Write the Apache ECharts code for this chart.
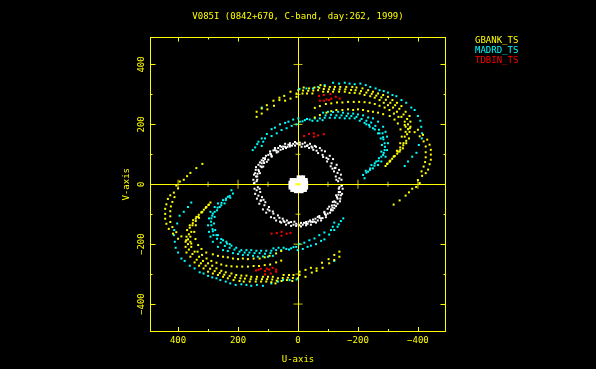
<!DOCTYPE html>
<html><head><meta charset="utf-8">
<style>html,body{margin:0;padding:0;background:#000}#c{width:596px;height:369px}</style>
<script src="https://cdn.jsdelivr.net/npm/echarts@6/dist/echarts.min.js"></script>
</head><body><div id="c"></div>
<script>
const titleText = "V085I (0842+670, C-band, day:262, 1999)";
const xLabel = "U-axis", yLabel = "V-axis";
const majorTicks = [-400,-200,0,200,400];
const minorTicks = [-300,-100,100,300];
const crossMajor = [-400,-200,200,400];
const crossMinor = [-300,-100,100,300];

// Values are [u, v].
const gbankTop = [[-15,303],[-17,313],[-19,323],[-30,303],[-34,312],[-37,320],[-48,303],[-51,313],[-55,323],[-67,314],[-71,322],[-75,331],[-84,309],[-86,318],[-89,327],[-100,309],[-103,317],[-106,325],[-117,309],[-120,317],[-123,325],[-137,309],[-139,317],[-141,325],[-156,309],[-158,317],[-161,325],[-172,305],[-177,315],[-181,325],[-189,305],[-192,314],[-195,323],[-206,303],[-210,311],[-215,320],[-222,298],[-228,306],[-234,314],[-241,294],[-246,302],[-250,309],[-256,289],[-261,296],[-267,303],[-272,281],[-278,290],[-284,298],[-286,272],[-293,282],[-300,292],[-300,264],[-308,272],[-315,281],[-317,256],[-324,264],[-330,272],[-330,242],[-338,252],[-345,261],[-345,225],[-352,233],[-359,242],[-356,209],[-364,218],[-372,228],[-359,192],[-367,200],[-375,209],[-359,175],[-367,184],[-375,192],[-356,159],[-364,167],[-372,175],[-352,137],[-361,145],[-370,153],[-341,123],[-351,130],[-361,137],[-333,109],[-341,115],[-350,120],[-322,94],[-331,102],[-339,109],[-306,76],[-314,85],[-322,94],[-292,61],[-299,69],[-306,76],
[138,242],[138,225],[121,253],[121,236],[104,264],[102,250],[82,279],[80,262],[62,289],[62,281],[46,295],[43,279],[25,309],[25,286],[5,303],[5,292],[-1,314],
[-56,255],[-73,261],[-93,268],[-111,270],[-130,273],[-148,273],[-167,275],[-186,275],[-204,275],[-222,274],[-239,272],[-256,268],[-272,262],[-289,256],[-305,248],[-320,236],[-335,225],[-356,198],[-373,187],[-389,174],[-406,160],[-419,143],[-426,126],[-426,107],[-426,90],[-424,74],[-419,59],[-412,43],
[-56,223],[-73,231],[-95,239],[-111,244],[-128,248],[-148,248],[-167,250],[-184,248],[-200,250],[-217,248],[-234,244],[-250,242],[-267,239],[-284,234],[-306,228],[-322,216],[-333,203],[-342,183],[-346,159],[-341,137],[-330,112],[-319,92],[-308,79],[-297,68],
[-400,182],[-417,165],[-431,149],[-439,132],[-443,115],[-443,99],[-443,82],[-439,67],[-434,49],[-426,37],[-414,28],[-400,14],[-406,4],[-394,-9],[-381,-15],[-370,-27],[-359,-38],[-339,-54],[-319,-68],
[5,0],[0,0],[-5,0]];
const gbankBottom = [[15,-303],[17,-313],[19,-323],[30,-303],[34,-312],[37,-320],[48,-303],[51,-313],[55,-323],[67,-314],[71,-322],[75,-331],[84,-309],[86,-318],[89,-327],[100,-309],[103,-317],[106,-325],[117,-309],[120,-317],[123,-325],[137,-309],[139,-317],[141,-325],[156,-309],[158,-317],[161,-325],[172,-305],[177,-315],[181,-325],[189,-305],[192,-314],[195,-323],[206,-303],[210,-311],[215,-320],[222,-298],[228,-306],[234,-314],[241,-294],[246,-302],[250,-309],[256,-289],[261,-296],[267,-303],[272,-281],[278,-290],[284,-298],[286,-272],[293,-282],[300,-292],[300,-264],[308,-272],[315,-281],[317,-256],[324,-264],[330,-272],[330,-242],[338,-252],[345,-261],[345,-225],[352,-233],[359,-242],[356,-209],[364,-218],[372,-228],[359,-192],[367,-200],[375,-209],[359,-175],[367,-184],[375,-192],[356,-159],[364,-167],[372,-175],[352,-137],[361,-145],[370,-153],[341,-123],[351,-130],[361,-137],[333,-109],[341,-115],[350,-120],[322,-94],[331,-102],[339,-109],[306,-76],[314,-85],[322,-94],[292,-61],[299,-69],[306,-76],
[-138,-242],[-138,-225],[-121,-253],[-121,-236],[-104,-264],[-102,-250],[-82,-279],[-80,-262],[-62,-289],[-62,-281],[-46,-295],[-43,-279],[-25,-309],[-25,-286],[-5,-303],[-5,-292],[1,-314],
[56,-255],[73,-261],[93,-268],[111,-270],[130,-273],[148,-273],[167,-275],[186,-275],[204,-275],[222,-274],[239,-272],[256,-268],[272,-262],[289,-256],[305,-248],[320,-236],[335,-225],[356,-198],[373,-187],[389,-174],[406,-160],[419,-143],[426,-126],[426,-107],[426,-90],[424,-74],[419,-59],[412,-43],
[56,-223],[73,-231],[95,-239],[111,-244],[128,-248],[148,-248],[167,-250],[184,-248],[200,-250],[217,-248],[234,-244],[250,-242],[267,-239],[284,-234],[306,-228],[322,-216],[333,-203],[342,-183],[346,-159],[341,-137],[330,-112],[319,-92],[308,-79],[297,-68],
[400,-182],[417,-165],[431,-149],[439,-132],[443,-115],[443,-99],[443,-82],[439,-67],[434,-49],[426,-37],[414,-28],[400,-14],[406,-4],[394,9],[381,15],[370,27],[359,38],[339,54],[319,68]];

const madrdTop = [[-5,318],[-28,320],[-50,320],[-67,325],[-89,331],[-117,339],[-137,336],[-156,339],[-172,336],[-189,334],[-208,336],[-226,331],[-241,325],[-259,320],[-272,314],[-286,311],[-300,306],[-315,298],[-328,294],[-345,281],[-361,272],[-378,256],[-389,248],[-400,228],[-408,212],[-411,192],[-414,170],[-413,153],[-403,131],[-395,105],[-381,92],[-367,76],[-356,61],
[-84,239],[-100,242],[-117,241],[-134,242],[-150,239],[-167,236],[-184,236],[-200,233],[-217,230],[-234,223],[-250,220],[-267,209],[-284,192],[-292,175],[-297,159],[-300,137],[-297,114],[-292,92],[-278,76],[-267,64],[-250,53],[-234,42],[-217,31],
[-6,209],[-23,214],[-39,216],[-56,220],[-73,220],[-89,222],[-106,222],[-123,222],[-139,222],[-156,220],[-172,220],[-189,220],[-206,212],[-222,205],[-237,198],[-250,187],[-267,170],[-276,153],[-280,131],[-278,109],[-270,87],[-256,70],[-241,53],[-228,39],[-222,20],
[-228,200],[-239,192],[-256,183],[-272,170],[-284,157],[-289,137],[-289,114],[-284,98],[-261,76],[-245,64],
[-1,220],[16,216],[32,209],[43,205],[60,200],[77,189],[88,184],[104,168],[121,153],[132,142],[143,123],[151,114],
[5,200],[21,195],[38,187],[55,181],[71,170],[88,161],[110,153],[116,142],[121,128],[136,134],[121,256],
[-92,230],[-110,232],[-128,230],[-145,230],[-162,228],[-178,228],[-195,225],[-212,218],[-228,212],[-244,206],[-258,195],[-270,182],[-282,170],[-285,150],[-290,125],[-286,105],[-278,92],[-268,78],[-255,62],[-240,48],[-226,45],[-15,210],[-30,218],[-48,212],[-65,212],[-82,214]];
const madrdBottom = [[5,-318],[28,-320],[50,-320],[67,-325],[89,-331],[117,-339],[137,-336],[156,-339],[172,-336],[189,-334],[208,-336],[226,-331],[241,-325],[259,-320],[272,-314],[286,-311],[300,-306],[315,-298],[328,-294],[345,-281],[361,-272],[378,-256],[389,-248],[400,-228],[408,-212],[411,-192],[414,-170],[413,-153],[403,-131],[395,-105],[381,-92],[367,-76],[356,-61],
[84,-239],[100,-242],[117,-241],[134,-242],[150,-239],[167,-236],[184,-236],[200,-233],[217,-230],[234,-223],[250,-220],[267,-209],[284,-192],[292,-175],[297,-159],[300,-137],[297,-114],[292,-92],[278,-76],[267,-64],[250,-53],[234,-42],[217,-31],
[6,-209],[23,-214],[39,-216],[56,-220],[73,-220],[89,-222],[106,-222],[123,-222],[139,-222],[156,-220],[172,-220],[189,-220],[206,-212],[222,-205],[237,-198],[250,-187],[267,-170],[276,-153],[280,-131],[278,-109],[270,-87],[256,-70],[241,-53],[228,-39],[222,-20],
[228,-200],[239,-192],[256,-183],[272,-170],[284,-157],[289,-137],[289,-114],[284,-98],[261,-76],[245,-64],
[1,-220],[-16,-216],[-32,-209],[-43,-205],[-60,-200],[-77,-189],[-88,-184],[-104,-168],[-121,-153],[-132,-142],[-143,-123],[-151,-114],
[-5,-200],[-21,-195],[-38,-187],[-55,-181],[-71,-170],[-88,-161],[-110,-153],[-116,-142],[-121,-128],[-136,-134],[-121,-256],
[92,-230],[110,-232],[128,-230],[145,-230],[162,-228],[178,-228],[195,-225],[212,-218],[228,-212],[244,-206],[258,-195],[270,-182],[282,-170],[285,-150],[290,-125],[286,-105],[278,-92],[268,-78],[255,-62],[240,-48],[226,-45],[15,-210],[30,-218],[48,-212],[65,-212],[82,-214]];

const tdbinPoints = [[-70,295],[-73,279],[-86,298],[-86,279],[-95,283],[-108,301],[-111,286],[-126,292],[-139,286],[-104,281],
[-20,161],[-37,168],[-53,170],[-53,159],[-67,163],[-86,167],
[140,-288],[132,-285],[124,-282],[110,-290],[104,-282],[96,-285],[85,-279],[73,-285],[110,-301],[91,-298],[73,-292],
[88,-165],[71,-163],[55,-159],[55,-172],[38,-165],[25,-163]];

const ringTop = [[149,15],[147,32],[141,48],[132,65],[121,80],[107,95],[93,110],[77,121],[60,128],[43,135],[27,137],[10,141],[-6,139],[-23,139],[-40,135],[-56,128],[-73,121],[-90,110],[-106,95],[-117,84],[-129,65],[-137,48],[-143,32],[-145,15],
[138,10],[136,26],[130,43],[121,57],[113,71],[99,82],[88,95],[71,106],[58,115],[40,121],[27,126],[10,129],[-6,132],[-23,126],[-37,121],[-51,115],[-67,104],[-84,91],[-97,76],[-109,60],[-120,43],[-126,26],[-134,10],
[127,73],[110,84],[82,113],[66,121],[49,126],[32,132],[16,135],[2,135],[-15,135],[-32,130],[-79,113],[-101,84],[-123,54],[143,37],[140,57],[116,87],[99,98],
[110,87],[121,70],[132,48],[140,26],[147,3],[93,103],[77,114],[55,125],[27,131],[5,137],[43,125],[66,109],[88,92],[104,75],[116,59],[127,37],[136,15],
[-45,126],[-62,112],[-82,98],[-95,88],[-112,70],[-125,55],[-132,38],[-138,20],[-128,15],[-115,52],[-60,125],[145,5],[135,35],[125,60],[115,78],[90,100],[72,112],[50,118],[35,125],[20,129],[-12,125],[-30,128],[-48,122]];
const ringBottom = [[-149,-15],[-147,-32],[-141,-48],[-132,-65],[-121,-80],[-107,-95],[-93,-110],[-77,-121],[-60,-128],[-43,-135],[-27,-137],[-10,-141],[6,-139],[23,-139],[40,-135],[56,-128],[73,-121],[90,-110],[106,-95],[117,-84],[129,-65],[137,-48],[143,-32],[145,-15],
[-138,-10],[-136,-26],[-130,-43],[-121,-57],[-113,-71],[-99,-82],[-88,-95],[-71,-106],[-58,-115],[-40,-121],[-27,-126],[-10,-129],[6,-132],[23,-126],[37,-121],[51,-115],[67,-104],[84,-91],[97,-76],[109,-60],[120,-43],[126,-26],[134,-10],
[-127,-73],[-110,-84],[-82,-113],[-66,-121],[-49,-126],[-32,-132],[-16,-135],[-2,-135],[15,-135],[32,-130],[79,-113],[101,-84],[123,-54],[-143,-37],[-140,-57],[-116,-87],[-99,-98],
[-110,-87],[-121,-70],[-132,-48],[-140,-26],[-147,-3],[-93,-103],[-77,-114],[-55,-125],[-27,-131],[-5,-137],[-43,-125],[-66,-109],[-88,-92],[-104,-75],[-116,-59],[-127,-37],[-136,-15],
[45,-126],[62,-112],[82,-98],[95,-88],[112,-70],[125,-55],[132,-38],[138,-20],[128,-15],[115,-52],[60,-125],[-145,-5],[-135,-35],[-125,-60],[-115,-78],[-90,-100],[-72,-112],[-50,-118],[-35,-125],[-20,-129],[12,-125],[30,-128],[48,-122]];
const corePoints = [[-1,24],[-10,24],[-18,24],
[22,15],[13,15],[4,15],[-5,15],[-14,15],[-23,15],[-27,15],
[26,6],[17,6],[8,6],[-1,6],[-10,6],[-19,6],[-28,6],
[26,-3],[17,-3],[8,-3],[-1,-3],[-10,-3],[-19,-3],[-28,-3],
[26,-12],[17,-12],[8,-12],[-1,-12],[-10,-12],[-19,-12],[-28,-12],
[20,-20],[11,-20],[2,-20],[-7,-20],[-16,-20],[-24,-20],
[8,-24],[-1,-24],[-10,-24],[-13,-24]];

const YEL = '#ffff00', CYA = '#00ffff', RED = '#ff0000';
const FONT = '"DejaVu Sans Mono"';
const fmt = v => v < 0 ? '\u2212' + (-v) : String(v);
const XMAX = 492, YMAX = 490;
const line = {show:true, onZero:false, lineStyle:{color:YEL, width:1}};

function xAxis(pos, values, len, labels){
  return {type:'value', position:pos, inverse:true, min:-XMAX, max:XMAX, splitLine:{show:false}, axisLine:line,
    axisTick:{show:true, inside:true, length:len, customValues:values, lineStyle:{color:YEL,width:1}},
    axisLabel: labels ? {show:true, customValues:majorTicks, formatter:fmt, color:YEL, fontFamily:FONT, fontSize:9, margin:5} : {show:false},
    name: labels ? xLabel : '', nameLocation:'middle', nameGap:24, nameTextStyle:{color:YEL, fontFamily:FONT, fontSize:9}};
}
function yAxis(pos, values, len, labels){
  return {type:'value', position:pos, min:-YMAX, max:YMAX, splitLine:{show:false}, axisLine:line,
    axisTick:{show:true, inside:true, length:len, customValues:values, lineStyle:{color:YEL,width:1}},
    axisLabel: labels ? {show:true, customValues:majorTicks, formatter:fmt, color:YEL, fontFamily:FONT, fontSize:9, rotate:90, margin:4} : {show:false},
    name: labels ? yLabel : '', nameLocation:'middle', nameGap:19, nameTextStyle:{color:YEL, fontFamily:FONT, fontSize:9}};
}
const dots = (name, data, color, size, z) => ({type:'scatter', name, data, symbol:'rect', symbolSize:size||2, z:z||5,
  itemStyle:{color, opacity:1}, silent:true, animation:false});
const tick = (data, size) => ({type:'scatter', data, symbol:'rect', symbolSize:size, itemStyle:{color:YEL}, silent:true, z:3});

const chart = echarts.init(document.getElementById('c'), null, {renderer:'canvas'});
chart.setOption({
  backgroundColor:'#000', animation:false,
  title:{text:titleText, left:298, top:12, textAlign:'center', padding:0, textStyle:{color:YEL, fontFamily:FONT, fontSize:9, fontWeight:'normal'}},
  legend:{orient:'vertical', left:470, top:36, itemWidth:0, itemHeight:10, itemGap:0.5, padding:0, selectedMode:false,
    textStyle:{fontFamily:FONT, fontSize:9},
    data:[{name:'GBANK_TS',icon:'none',textStyle:{color:YEL}},{name:'MADRD_TS',icon:'none',textStyle:{color:CYA}},{name:'TDBIN_TS',icon:'none',textStyle:{color:RED}}]},
  grid:{left:150.5, top:37.5, width:295, height:294, containLabel:false},
  xAxis:[xAxis('bottom',majorTicks,4,true), xAxis('top',majorTicks,4,false), xAxis('bottom',minorTicks,2,false), xAxis('top',minorTicks,2,false)],
  yAxis:[yAxis('left',majorTicks,5,true), yAxis('right',majorTicks,5,false), yAxis('left',minorTicks,2,false), yAxis('right',minorTicks,2,false)],
  series:[
    {type:'line', data:[], silent:true, z:3, markLine:{silent:true, symbol:'none', animation:false, z:3, label:{show:false}, lineStyle:{color:YEL,width:1,type:'solid'},
      data:[{xAxis:0},{yAxis:0}]}},
    tick(crossMajor.map(u=>[u,0]), [1,9]),
    tick(crossMinor.map(u=>[u,0]), [1,5]),
    tick(crossMajor.map(v=>[0,v]), [9,1]),
    tick(crossMinor.map(v=>[0,v]), [5,1]),
    dots('ring', ringTop.concat(ringBottom), '#ffffff', 2, 2),
    dots('core', corePoints, '#ffffff', 3.4, 4),
    dots('MADRD_TS', madrdTop.concat(madrdBottom), CYA),
    dots('GBANK_TS', gbankTop.concat(gbankBottom), YEL, 2, 6),
    dots('TDBIN_TS', tdbinPoints, RED, 2, 7)
  ]
});
</script></body></html>
